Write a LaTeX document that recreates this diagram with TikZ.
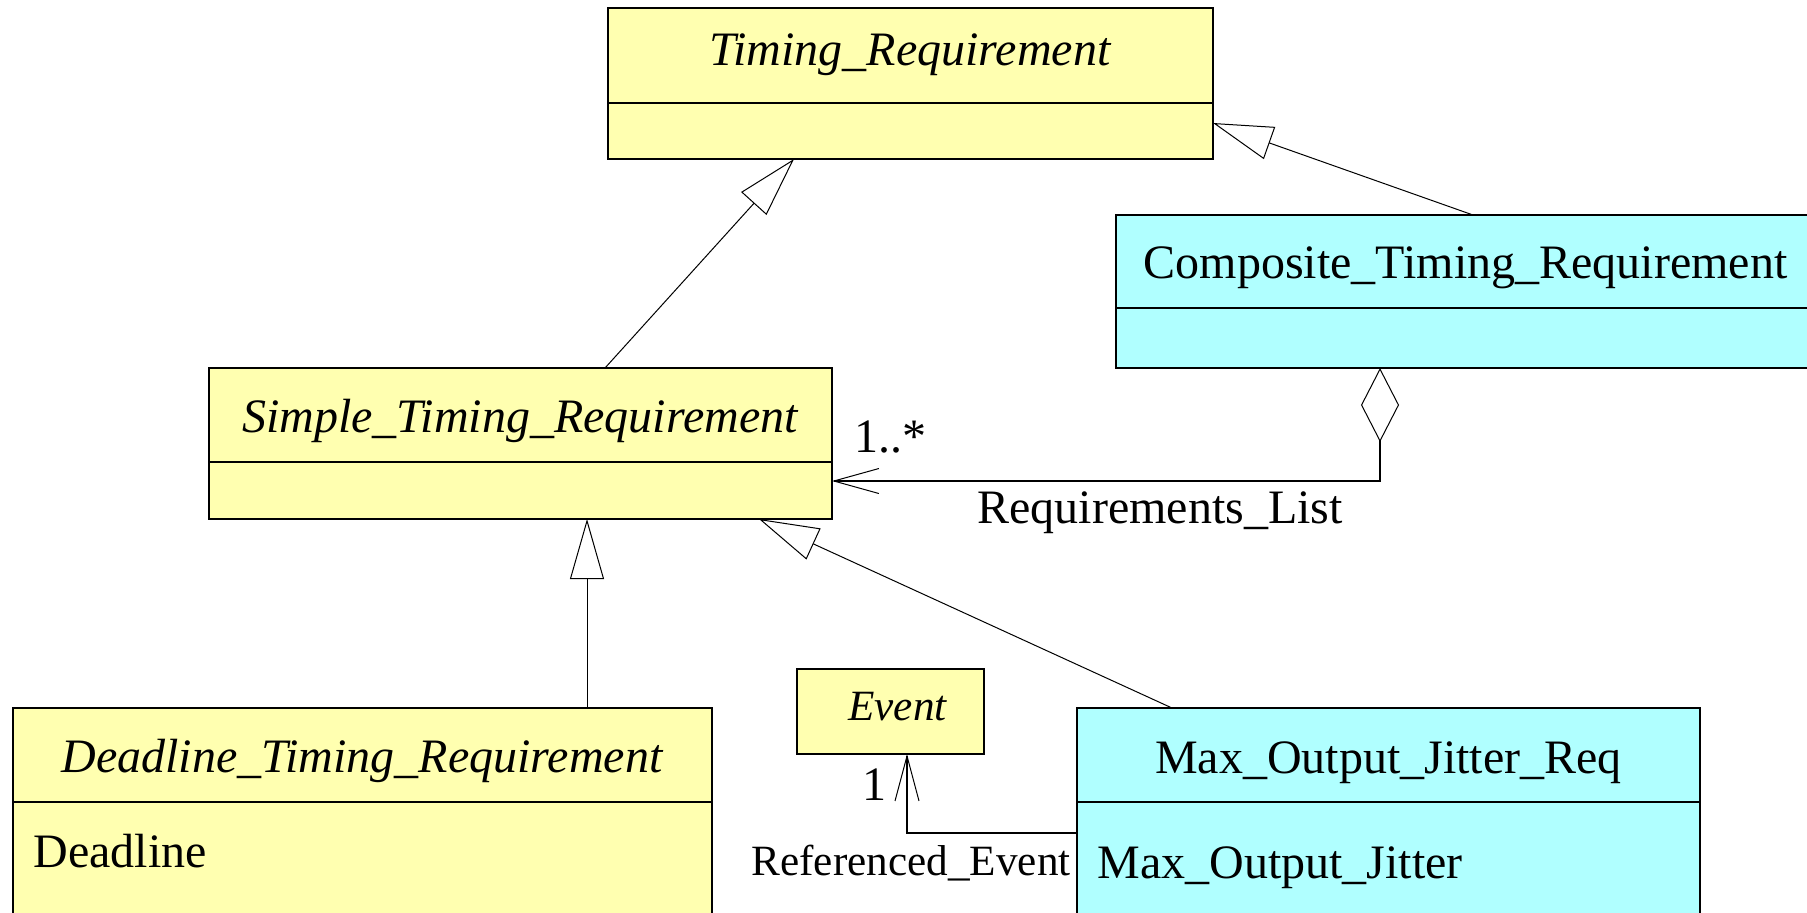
\documentclass[tikz,border=0pt]{standalone}
\usepackage{fontspec}
\setmainfont{Liberation Serif}
\usetikzlibrary{arrows.meta}
\definecolor{clsyellow}{HTML}{FFFFB0}
\definecolor{clscyan}{HTML}{B0FFFF}
\tikzset{
 cls/.style={draw, line width=1pt, inner sep=0pt, outer sep=0pt},
 divl/.style={line width=1pt},
 lbl/.style={inner sep=0pt, anchor=base, font=\fontsize{24pt}{28pt}\selectfont},
 lblsm/.style={inner sep=0pt, anchor=base, font=\fontsize{21.6pt}{26pt}\selectfont},
 conn/.style={line width=0.5pt},
 gen/.style={conn, -{Triangle[open, length=30pt, width=17pt]}},
 agg/.style={line width=0.9pt, {Diamond[open,length=37pt,width=19pt,line width=0.5pt]}-{Straight Barb[length=22.5pt,width=12.5pt,line width=0.5pt]}},
 nav/.style={line width=0.9pt, -{Straight Barb[length=22.5pt,width=12pt,line width=0.5pt]}},
}
\begin{document}
\begin{tikzpicture}[x=0.5pt,y=-0.5pt]
\useasboundingbox (0,0) rectangle (1807,912);
\clip (0,0) rectangle (1807,912);
% class boxes
\node[cls, fill=clsyellow, minimum width=302.5pt, minimum height=75.5pt] (tr) at (910.5,83.5) {};
\node[cls, fill=clscyan, minimum width=349.5pt, minimum height=76.5pt] (ctr) at (1465.5,291.5) {};
\node[cls, fill=clsyellow, minimum width=311.5pt, minimum height=75.5pt] (str) at (520.5,443.5) {};
\node[cls, fill=clsyellow, minimum width=349.5pt, minimum height=111pt] (dtr) at (362.5,819) {};
\node[cls, fill=clsyellow, minimum width=93.5pt, minimum height=42.5pt] (ev) at (890.5,711.5) {};
\node[cls, fill=clscyan, minimum width=311.5pt, minimum height=111pt] (moj) at (1388.5,819) {};
% dividers
\draw[divl] (tr.west |- 0,103) -- (tr.east |- 0,103);
\draw[divl] (ctr.west |- 0,308) -- (ctr.east |- 0,308);
\draw[divl] (str.west |- 0,462) -- (str.east |- 0,462);
\draw[divl] (dtr.west |- 0,802) -- (dtr.east |- 0,802);
\draw[divl] (moj.west |- 0,802) -- (moj.east |- 0,802);
% names
\node[lbl] (trn) at (910.5,65) {\textit{Timing\_Requirement}};
\node[lbl] (ctrn) at (1465.5,278) {Composite\_Timing\_Requirement};
\node[lbl] (strn) at (520.5,432) {\textit{Simple\_Timing\_Requirement}};
\node[lbl] (dtrn) at (362.5,772) {\textit{Deadline\_Timing\_Requirement}};
\node[lblsm] (evn) at (898,720) {\textit{Event}};
\node[lbl] (mojn) at (1388.5,773) {Max\_Output\_Jitter\_Req};
% attributes
\node[lbl, anchor=base west] (dtra) at (33,867) {Deadline};
\node[lbl, anchor=base west] (moja) at (1097,878) {Max\_Output\_Jitter};
% connectors
\draw[gen] (str.north -| 605,0) -- (tr.south -| 794,0);
\draw[gen] (ctr.north -| 1473,0) -- (tr.east |- 0,123);
\draw[gen] (dtr.north -| 587,0) -- (str.south -| 587,0);
\draw[gen] (moj.north -| 1172,0) -- (str.south -| 759,0);
\draw[agg] (ctr.south -| 1380,0) |- (str.east |- 0,481);
\draw[nav] (moj.west |- 0,833) -| (ev.south -| 907,0);
% association labels
\node[lbl, anchor=base west] (mult1) at (854,452) {1..*};
\node[lbl, anchor=base west] (rl) at (977,523) {Requirements\_List};
\node[lbl, anchor=base east] (mult2) at (887,800) {1};
\node[lblsm, anchor=base east] (re) at (1071,875) {Referenced\_Event};
\end{tikzpicture}
\end{document}
